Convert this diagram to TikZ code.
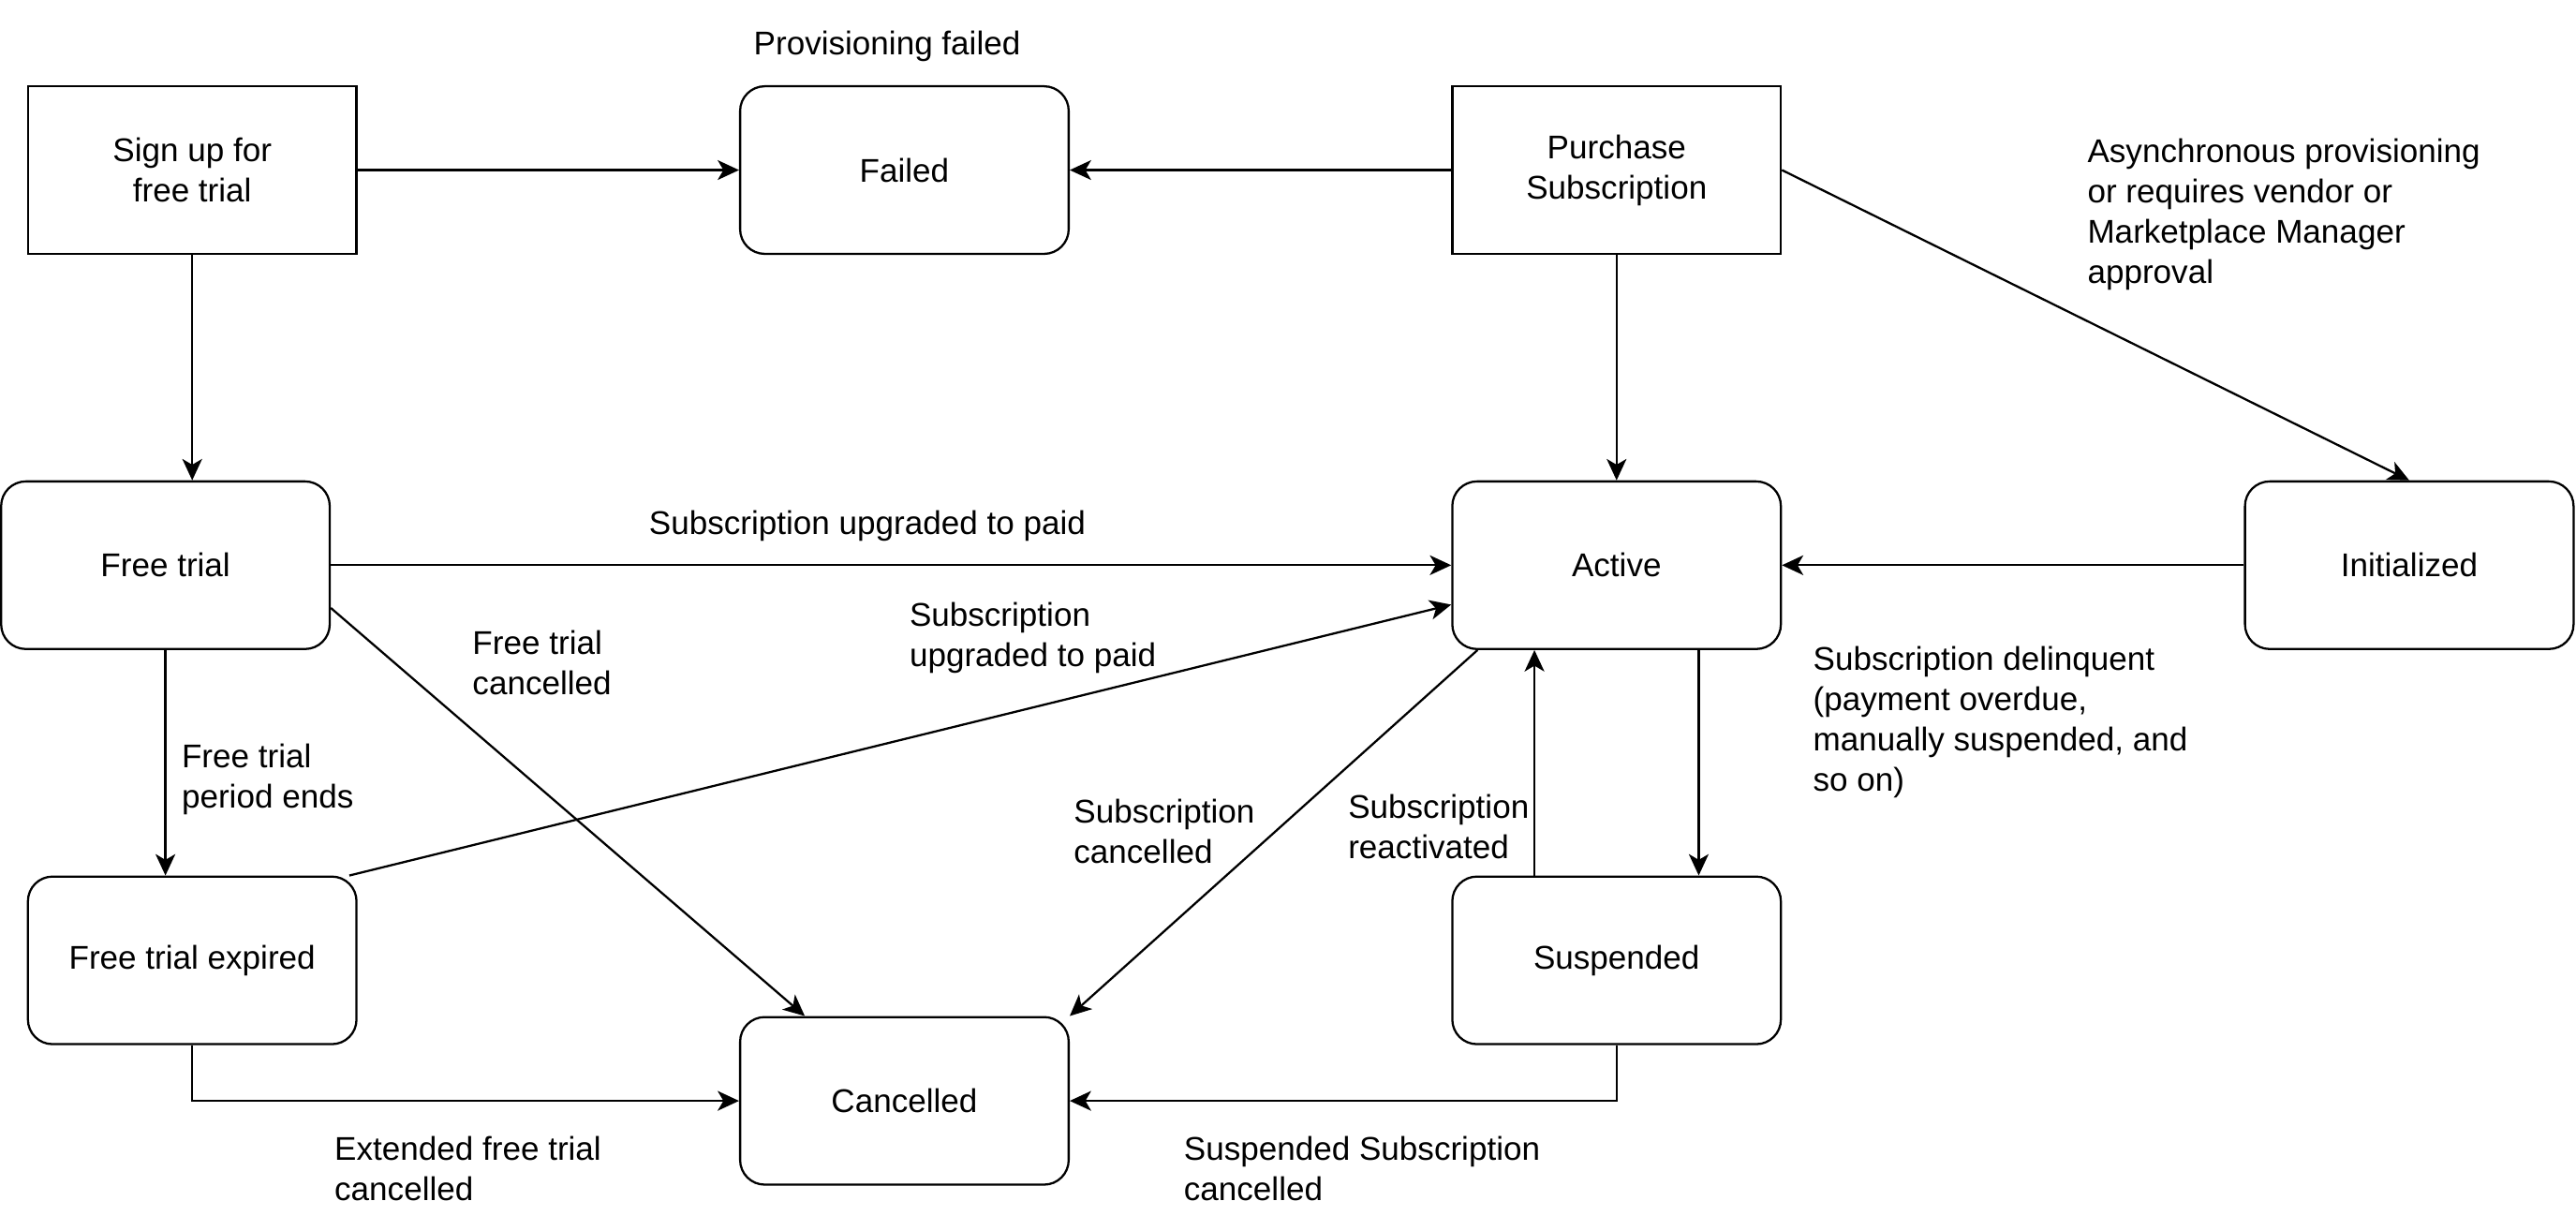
\documentclass[tikz,border=0pt]{standalone}
\usepackage{fontspec}
\setmainfont{Liberation Sans}
\usetikzlibrary{arrows.meta,calc}
\begin{document}
\begin{tikzpicture}[x=1pt,y=-1pt, line width=1.3pt,
  box/.style={draw, minimum width=200pt, minimum height=102pt, align=center, font=\fontsize{20}{24.5}\selectfont, inner sep=2pt},
  rbox/.style={box, rounded corners=15pt},
  arr/.style={-{Stealth[length=13pt,width=12pt,inset=3.5pt]}},
  lab/.style={font=\fontsize{20}{24.5}\selectfont, align=left, inner sep=0pt, anchor=north west, execute at begin node=\strut},
  clab/.style={font=\fontsize{20}{24.5}\selectfont, inner sep=0pt, anchor=base}
]
\useasboundingbox (0,0) rectangle (1568,740);

\node[box] (signup) at (117,103.5) {Sign up for\\free trial};
\node[rbox] (failed) at (550.5,103.5) {Failed};
\node[box] (purchase) at (984,103.5) {Purchase\\Subscription};
\node[rbox] (freetrial) at (100.7,344) {Free trial};
\node[rbox] (active) at (984,344) {Active};
\node[rbox] (initialized) at (1466.5,344) {Initialized};
\node[rbox] (expired) at (117,584.5) {Free trial expired};
\node[rbox] (cancelled) at (550.5,670) {Cancelled};
\node[rbox] (suspended) at (984,584.5) {Suspended};

\draw[arr] (signup.east) -- (failed.west);
\draw[arr] (purchase.west) -- (failed.east);
\draw[arr] (signup.south) -- (signup.south |- freetrial.north);
\draw[arr] (purchase.south) -- (active.north);
\draw[arr] (purchase.east) -- (initialized.north);
\draw[arr] (initialized.west) -- (active.east);
\draw[arr] (freetrial.east) -- (active.west);
\draw[arr] ($(freetrial.east)+(0,26)$) -- ($(cancelled.north west)+(40,0)$);
\draw[arr] (freetrial.south) -- (freetrial.south |- expired.north);
\draw[arr] ($(expired.north east)+(-5,0)$) -- ($(active.west)+(0,24)$);
\draw[arr] ($(active.south west)+(16,0)$) -- (cancelled.north east);
\draw[arr] ($(suspended.north)+(-50,0)$) -- ($(active.south)+(-50,0)$);
\draw[arr] ($(active.south)+(50,0)$) -- ($(suspended.north)+(50,0)$);
\draw[arr] (suspended.south) |- (cancelled.east);
\draw[arr] (expired.south) |- (cancelled.west);

\node[clab] (lprov) at (540,33.5) {Provisioning failed};
\node[lab] (lasync) at (1270,84) {Asynchronous provisioning\\or requires vendor or\\Marketplace Manager\\approval};
\node[clab] (lup1) at (528,325.5) {Subscription upgraded to paid};
\node[lab] (lftc) at (287,383) {Free trial\\cancelled};
\node[lab] (lup2) at (553,366) {Subscription\\upgraded to paid};
\node[lab] (lpe) at (110,452) {Free trial\\period ends};
\node[lab] (lsc) at (653,486) {Subscription\\cancelled};
\node[lab] (lreact) at (820,483) {Subscription\\reactivated};
\node[lab] (ldel) at (1103,393) {Subscription delinquent\\(payment overdue,\\manually suspended, and\\so on)};
\node[lab] (lext) at (203,691) {Extended free trial\\cancelled};
\node[lab] (lss) at (720,691) {Suspended Subscription\\cancelled};
\end{tikzpicture}
\end{document}
